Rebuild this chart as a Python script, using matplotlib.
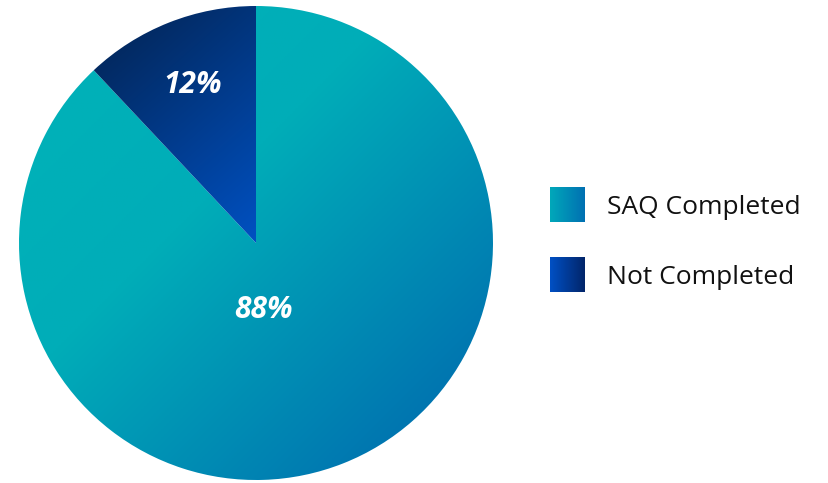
import numpy as np
import matplotlib.pyplot as plt
from matplotlib.colors import LinearSegmentedColormap

plt.rcParams['font.family'] = ['Open Sans', 'DejaVu Sans']

# data
labels = ["SAQ Completed", "Not Completed"]
values = [88, 12]
pct_text = ["88%", "12%"]

# gradient colour stops per series
teal_blue = LinearSegmentedColormap.from_list(
    "tb", [(0, "#00b3b8"), (0.4, "#00adb8"), (1, "#0064ae")])
navy_blue = LinearSegmentedColormap.from_list(
    "nb", [(0, "#03224f"), (1, "#0051c2")])
cmaps = [teal_blue, navy_blue]

W, H = 829, 483
fig = plt.figure(figsize=(W / 100, H / 100), dpi=100)
ax = fig.add_axes([0, 0, 1, 1])

cx, cy, r = 256, 240, 237
wedges, _ = ax.pie(values, startangle=90, counterclock=False,
                   center=(cx, cy), radius=r, frame=True,
                   wedgeprops=dict(linewidth=0))
ax.set_aspect("equal")


def diag_grad(dx, dy, n=300):
    # 0 at top-left of the box, 1 at bottom-right (row 0 = top)
    xs = np.linspace(0, 1, n)
    X, Y = np.meshgrid(xs, xs)
    return (dx * X + dy * Y) / (dx + dy)


for w, cm, d in zip(wedges, cmaps, [(1.0, 1.0), (0.6, 1.0)]):
    w.set_facecolor("none")
    bb = w.get_path().get_extents(w.get_transform() - ax.transData)
    im = ax.imshow(diag_grad(*d), cmap=cm, origin="upper",
                   extent=[bb.x0, bb.x1, bb.y0, bb.y1],
                   interpolation="bilinear", aspect="auto", zorder=1)
    im.set_clip_path(w)

# percentage labels
ax.text(264, H - 310, pct_text[0], color="white", fontsize=21.5,
        fontweight="bold", style="italic", ha="center", va="center", zorder=3)
ax.text(193, H - 85, pct_text[1], color="white", fontsize=21.5,
        fontweight="bold", style="italic", ha="center", va="center", zorder=3)

# legend with gradient swatches
hgrad = np.linspace(0, 1, 100).reshape(1, -1)
sw_cols = [["#00a8ba", "#0070b2"], ["#0050c4", "#02256a"]]
sw_y = [H - 222, H - 292]
for i, (lab, y0) in enumerate(zip(labels, sw_y)):
    cm = LinearSegmentedColormap.from_list("s%d" % i, sw_cols[i])
    ax.imshow(hgrad, cmap=cm, extent=[550, 585, y0, y0 + 35],
              aspect="auto", zorder=2)
    ax.text(607, y0 + 14.5, lab, fontsize=19, color="#111111",
            ha="left", va="center")

ax.set_xlim(0, W)
ax.set_ylim(0, H)
ax.axis("off")
fig.savefig("out.png", dpi=100)
